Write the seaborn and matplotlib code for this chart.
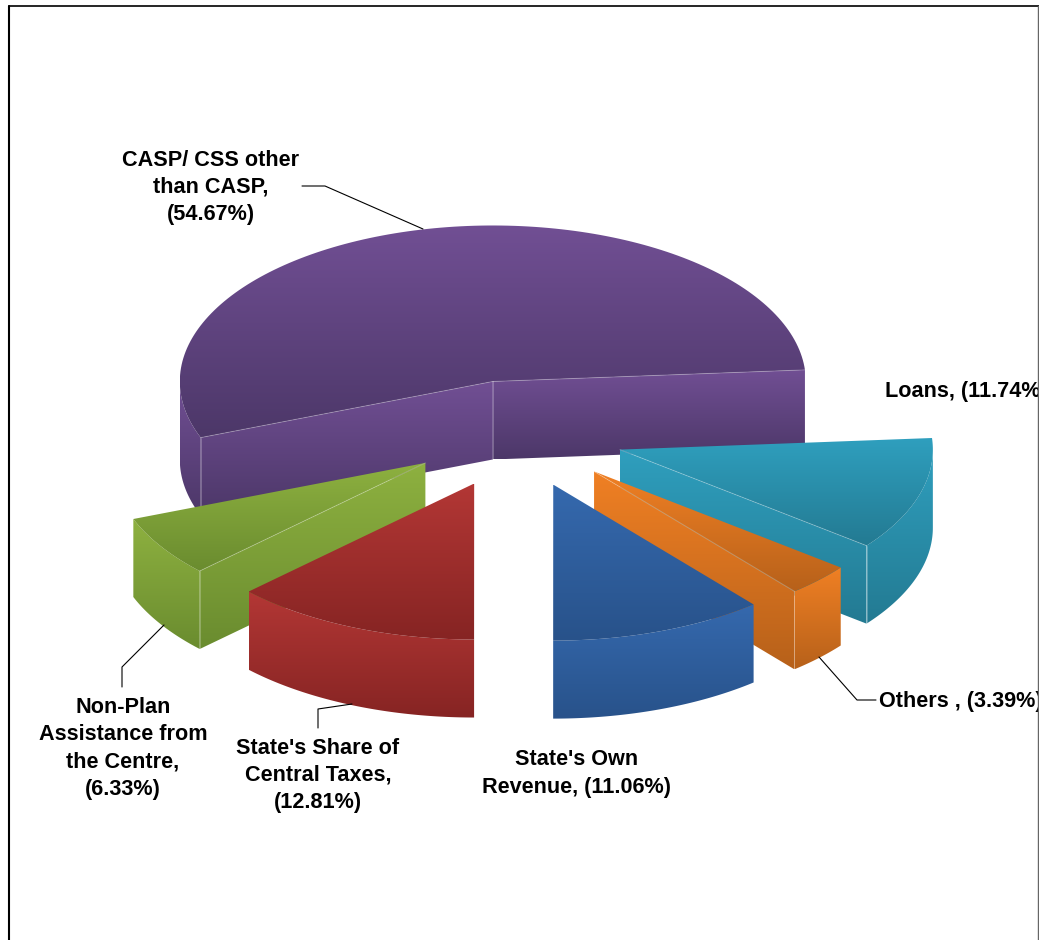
#!/usr/bin/python
# 3D style exploded pie of the receipts shares, drawn with gradient filled faces

import numpy as np
import matplotlib
matplotlib.use('Agg')
import matplotlib.pyplot as plt
from matplotlib.patches import PathPatch
from matplotlib.path import Path
import seaborn as sns

# 1. Data

labels = ["State's Own\nRevenue, (11.06%)", "State's Share of\nCentral Taxes,\n(12.81%)",
          "Non-Plan\nAssistance from\nthe Centre,\n(6.33%)", "CASP/ CSS other\nthan CASP,\n(54.67%)",
          "Loans, (11.74%)", "Others , (3.39%)"]
shares = [11.06, 12.81, 6.33, 54.67, 11.74, 3.39]
light = ['#3569AE', '#B33735', '#8EB140', '#714F94', '#2F9FBE', '#F08024']
dark = ['#28528A', '#862423', '#6A8C2F', '#4C3768', '#237A92', '#B7611A']

# 2. Pie geometry in pixels

start_angle = 50.2
cx, cy = 516.5, 434
rx, ry = 313, 156
explode = 108
depth = 78
draw_order = [3, 4, 5, 2, 1, 0]

sns.set_theme(style='white')
plt.rcParams['font.family'] = ['Liberation Sans', 'DejaVu Sans']

fig = plt.figure(figsize=(10.39, 9.40), dpi=100)
ax = fig.add_axes([0, 0, 1, 1])
ax.set_axis_off()


def rim(x0, y0, deg):
    t = np.radians(deg)
    return x0 + rx*np.cos(t), y0 + ry*np.sin(t)


def fill_face(points, i, zorder):
    # vertical gradient clipped to the face outline
    points = np.array(points)
    cmap = sns.blend_palette([light[i], dark[i]], as_cmap=True)
    patch = PathPatch(Path(np.vstack([points, points[:1]]), closed=True), transform=ax.transData,
                      facecolor='none', edgecolor='none')
    ax.add_patch(patch)
    im = ax.imshow(np.linspace(0, 1, 256)[:, None], cmap=cmap, aspect='auto', zorder=zorder,
                   extent=(points[:, 0].min(), points[:, 0].max(), points[:, 1].max(), points[:, 1].min()))
    im.set_clip_path(patch)


def seam(p, q, zorder):
    ax.plot([p[0], q[0]], [p[1], q[1]], color='white', alpha=0.25, lw=0.7, zorder=zorder)


# 3. Faces, back slices first

edges = start_angle + 3.6*np.cumsum([0] + shares)
z = 1
for i in draw_order:
    a1, a2 = edges[i], edges[i+1]
    mid = np.radians((a1 + a2)/2)
    x0 = cx + explode*np.cos(mid)
    y0 = cy + explode*ry/rx*np.sin(mid)

    # cut faces that look towards the viewer
    for a, show in ((a1, np.cos(np.radians(a1)) < -0.01), (a2, np.cos(np.radians(a2)) > 0.01)):
        if show:
            px, py = rim(x0, y0, a)
            fill_face([(x0, y0), (px, py), (px, py+depth), (x0, y0+depth)], i, z)
            z += 1

    # outer wall, only the front half of the ellipse
    for lo, hi in ((0, 180), (360, 540)):
        b1, b2 = max(a1, lo), min(a2, hi)
        if b2 > b1:
            t = np.linspace(b1, b2, 80)
            px, py = rim(x0, y0, t)
            fill_face(list(zip(px, py)) + list(zip(px[::-1], py[::-1] + depth)), i, z)
            z += 1

    # top face
    t = np.linspace(a1, a2, 160)
    px, py = rim(x0, y0, t)
    fill_face([(x0, y0)] + list(zip(px, py)), i, z)
    z += 1

    # thin light seams
    for a, show in ((a1, np.cos(np.radians(a1)) < -0.01), (a2, np.cos(np.radians(a2)) > 0.01)):
        if show:
            px, py = rim(x0, y0, a)
            seam((x0, y0), (px, py), z)
            seam((px, py), (px, py+depth), z)
    if np.cos(np.radians(a1)) < -0.01 and np.cos(np.radians(a2)) > 0.01:
        seam((x0, y0), (x0, y0+depth), z)
    z += 1

# 4. Labels and leader lines

text_style = dict(fontsize=15.6, fontweight='bold', color='black', linespacing=1.4, zorder=50, clip_on=False)
ax.text(211, 187.5, labels[3], ha='center', va='center', **text_style)
ax.text(885, 392, labels[4], ha='left', va='center', **text_style)
ax.text(879, 701.5, labels[5], ha='left', va='center', **text_style)
ax.text(577, 773.5, labels[0], ha='center', va='center', **text_style)
ax.text(318, 775.5, labels[1], ha='center', va='center', **text_style)
ax.text(123, 748.5, labels[2], ha='center', va='center', **text_style)

leaders = [([302, 325, 423], [186, 186, 229]),
           ([819, 857, 876], [657, 700, 700]),
           ([164, 122, 122], [625, 667, 687]),
           ([352, 318, 318], [704, 709, 728])]
for xs, ys in leaders:
    ax.plot(xs, ys, color='black', lw=0.8, zorder=40)

# 5. Picture frame, open at the bottom

ax.plot([9, 9], [6, 940], color='black', lw=1.5, zorder=60)
ax.plot([9, 1039], [6, 6], color='black', lw=1.2, zorder=60)
ax.plot([1038, 1038], [6, 940], color='#666666', lw=1.0, zorder=60)

ax.set_xlim(0, 1039)
ax.set_ylim(940, 0)
fig.savefig('out.png', dpi=100, facecolor='white')
